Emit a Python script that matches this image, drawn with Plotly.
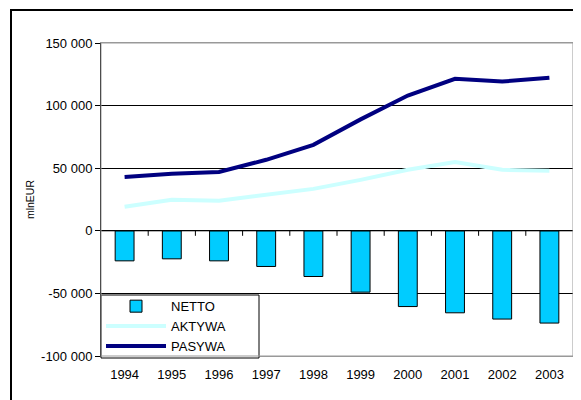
import plotly.graph_objects as go

years = ["1994", "1995", "1996", "1997", "1998", "1999", "2000", "2001", "2002", "2003"]
netto = [-24000, -22400, -24000, -28500, -36500, -49000, -60500, -65500, -70500, -73700]
aktywa = [19200, 24800, 24000, 28700, 33500, 40700, 48700, 54900, 48700, 47900]
pasywa = [42900, 45500, 47000, 56700, 68700, 89000, 108000, 121400, 119200, 122200]

y_ticks = [-100000, -50000, 0, 50000, 100000, 150000]
y_labels = ["-100 000", "-50 000", "0", "50 000", "100 000", "150 000"]

font = "Liberation Sans, Arial, sans-serif"

fig = go.Figure()

fig.add_trace(go.Bar(
    x=years, y=netto, name="NETTO",
    marker=dict(color="#00CCFF", line=dict(color="black", width=1)),
))
fig.add_trace(go.Scatter(
    x=years, y=aktywa, name="AKTYWA", mode="lines",
    line=dict(color="#CCFFFF", width=4),
))
fig.add_trace(go.Scatter(
    x=years, y=pasywa, name="PASYWA", mode="lines",
    line=dict(color="#000080", width=4),
))

# outer chart frame (clipped at right/bottom like the original)
fig.add_shape(type="rect", xref="paper", yref="paper",
              x0=-90 / 472, x1=1.2, y0=-0.3, y1=1 + 33 / 313,
              line=dict(color="black", width=2), layer="below")

# zero line with small ticks between the categories
fig.add_hline(y=0, line=dict(color="black", width=1))
for i in range(len(years) - 1):
    fig.add_shape(type="line", xref="x", yref="y",
                  x0=i + 0.5, x1=i + 0.5,
                  ysizemode="pixel", yanchor=0, y0=0, y1=-5,
                  line=dict(color="black", width=1))

# legend frame (wider than plotly's own box)
fig.add_shape(type="rect", xref="paper", yref="paper",
              x0=0, x1=158 / 472, y0=-2 / 313, y1=61 / 313,
              fillcolor="white", line=dict(color="black", width=1), layer="above")

# page body adds an 8px offset, margins account for it
fig.update_layout(
    width=581, height=400,
    margin=dict(l=93, r=16, t=35, b=52),
    plot_bgcolor="white", paper_bgcolor="white",
    font=dict(family=font, size=13, color="black"),
    bargap=0.6,
    showlegend=True,
    legend=dict(
        x=0, y=0.207, xanchor="left", yanchor="top",
        bgcolor="rgba(0,0,0,0)", borderwidth=0,
        font=dict(size=13), traceorder="normal",
        tracegroupgap=0, itemwidth=60,
    ),
    xaxis=dict(
        type="category", categoryorder="array", categoryarray=years,
        range=[-0.5, 9.5], showgrid=False, zeroline=False, automargin=False,
        showline=True, linecolor="#999999", linewidth=1, mirror=True,
        ticks="", ticklabelstandoff=6,
    ),
    yaxis=dict(
        range=[-100000, 150000], tickvals=y_ticks, ticktext=y_labels,
        showgrid=True, gridcolor="black", gridwidth=1, automargin=False,
        zeroline=False, showline=True, linecolor="black", linewidth=1,
        ticks="outside", ticklen=5, tickcolor="black",
        title=dict(text="mlnEUR", font=dict(size=10.5), standoff=4),
    ),
)

# right/top plot border in grey over the grid
fig.add_shape(type="rect", xref="paper", yref="paper", x0=0, x1=1, y0=0, y1=1,
              line=dict(color="#999999", width=1))

fig.write_html("out.html")
